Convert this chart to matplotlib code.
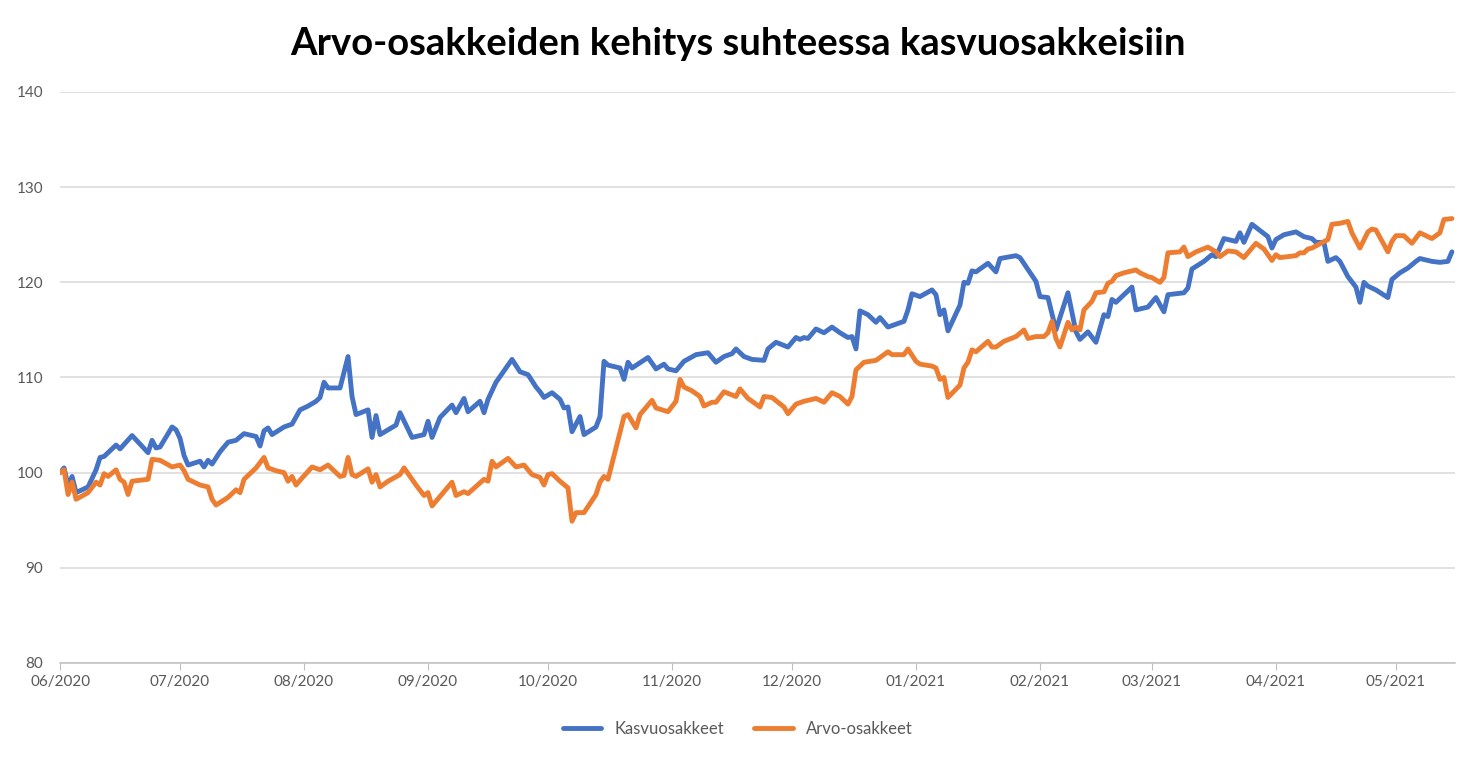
import numpy as np
import pandas as pd
import matplotlib
matplotlib.use('Agg')
import matplotlib.pyplot as plt
import matplotlib.dates as mdates

plt.rcParams['font.family'] = ['Lato', 'DejaVu Sans']

# Kasvuosakkeet (blue)
kasvu_dates = [
    '2020-06-01', '2020-06-02', '2020-06-03', '2020-06-04', '2020-06-05', '2020-06-08', '2020-06-10',
    '2020-06-11', '2020-06-12', '2020-06-15', '2020-06-16', '2020-06-19', '2020-06-23', '2020-06-24',
    '2020-06-25', '2020-06-26', '2020-06-29', '2020-06-30', '2020-07-01', '2020-07-02', '2020-07-03',
    '2020-07-06', '2020-07-07', '2020-07-08', '2020-07-09', '2020-07-11', '2020-07-13', '2020-07-15',
    '2020-07-17', '2020-07-20', '2020-07-21', '2020-07-22', '2020-07-23', '2020-07-24', '2020-07-27',
    '2020-07-29', '2020-07-31', '2020-08-02', '2020-08-04', '2020-08-05', '2020-08-06', '2020-08-07',
    '2020-08-10', '2020-08-12', '2020-08-13', '2020-08-14', '2020-08-17', '2020-08-18', '2020-08-19',
    '2020-08-20', '2020-08-24', '2020-08-25', '2020-08-28', '2020-08-31', '2020-09-01', '2020-09-02',
    '2020-09-04', '2020-09-07', '2020-09-08', '2020-09-10', '2020-09-11', '2020-09-14', '2020-09-15',
    '2020-09-16', '2020-09-18', '2020-09-22', '2020-09-24', '2020-09-26', '2020-09-28', '2020-09-29',
    '2020-09-30', '2020-10-02', '2020-10-04', '2020-10-05', '2020-10-06', '2020-10-07', '2020-10-09',
    '2020-10-10', '2020-10-13', '2020-10-14', '2020-10-15', '2020-10-16', '2020-10-19', '2020-10-20',
    '2020-10-21', '2020-10-22', '2020-10-26', '2020-10-28', '2020-10-30', '2020-10-31', '2020-11-02',
    '2020-11-04', '2020-11-07', '2020-11-10', '2020-11-12', '2020-11-14', '2020-11-16', '2020-11-17',
    '2020-11-19', '2020-11-21', '2020-11-24', '2020-11-25', '2020-11-27', '2020-11-30', '2020-12-02',
    '2020-12-03', '2020-12-04', '2020-12-05', '2020-12-07', '2020-12-09', '2020-12-11', '2020-12-13',
    '2020-12-15', '2020-12-16', '2020-12-17', '2020-12-18', '2020-12-20', '2020-12-22', '2020-12-23',
    '2020-12-25', '2020-12-29', '2020-12-30', '2020-12-31', '2021-01-02', '2021-01-05', '2021-01-06',
    '2021-01-07', '2021-01-08', '2021-01-09', '2021-01-12', '2021-01-13', '2021-01-14', '2021-01-15',
    '2021-01-16', '2021-01-19', '2021-01-21', '2021-01-22', '2021-01-26', '2021-01-27', '2021-01-31',
    '2021-02-01', '2021-02-03', '2021-02-05', '2021-02-08', '2021-02-10', '2021-02-11', '2021-02-13',
    '2021-02-15', '2021-02-17', '2021-02-18', '2021-02-19', '2021-02-20', '2021-02-24', '2021-02-25',
    '2021-02-28', '2021-03-02', '2021-03-04', '2021-03-05', '2021-03-09', '2021-03-10', '2021-03-11',
    '2021-03-14', '2021-03-16', '2021-03-17', '2021-03-19', '2021-03-22', '2021-03-23', '2021-03-24',
    '2021-03-26', '2021-03-30', '2021-03-31', '2021-04-01', '2021-04-03', '2021-04-06', '2021-04-08',
    '2021-04-10', '2021-04-11', '2021-04-13', '2021-04-14', '2021-04-16', '2021-04-17', '2021-04-19',
    '2021-04-21', '2021-04-22', '2021-04-23', '2021-04-24', '2021-04-26', '2021-04-29', '2021-04-30',
    '2021-05-02', '2021-05-04', '2021-05-06', '2021-05-07', '2021-05-10', '2021-05-12', '2021-05-14',
    '2021-05-15']
kasvu_values = [
    100.0, 100.5, 98.6, 99.6, 97.9, 98.5, 100.3,
    101.6, 101.7, 102.9, 102.5, 103.9, 102.1, 103.4,
    102.6, 102.7, 104.8, 104.5, 103.6, 101.8, 100.8,
    101.2, 100.6, 101.3, 100.9, 102.2, 103.2, 103.4,
    104.1, 103.8, 102.8, 104.4, 104.7, 104.0, 104.8,
    105.1, 106.6, 107.0, 107.5, 107.9, 109.5, 108.9,
    108.9, 112.2, 108.0, 106.1, 106.6, 103.7, 106.0,
    104.0, 105.0, 106.3, 103.7, 104.0, 105.4, 103.7,
    105.8, 107.1, 106.3, 107.8, 106.4, 107.5, 106.3,
    107.7, 109.5, 111.9, 110.6, 110.3, 109.0, 108.5,
    107.9, 108.4, 107.7, 106.8, 106.9, 104.3, 105.9,
    104.0, 104.8, 105.9, 111.7, 111.3, 111.0, 109.8,
    111.6, 111.0, 112.1, 110.9, 111.4, 110.9, 110.7,
    111.7, 112.4, 112.6, 111.6, 112.2, 112.5, 113.0,
    112.2, 111.9, 111.8, 113.0, 113.7, 113.2, 114.2,
    114.0, 114.2, 114.1, 115.1, 114.7, 115.3, 114.7,
    114.2, 114.3, 113.0, 117.0, 116.6, 115.8, 116.3,
    115.3, 115.9, 117.1, 118.8, 118.5, 119.2, 118.7,
    116.6, 117.1, 114.9, 117.6, 120.0, 119.9, 121.2,
    121.1, 122.0, 121.1, 122.5, 122.8, 122.6, 120.1,
    118.5, 118.4, 115.0, 118.9, 114.8, 114.0, 114.8,
    113.7, 116.6, 116.4, 118.2, 117.9, 119.5, 117.1,
    117.4, 118.4, 116.9, 118.7, 118.9, 119.4, 121.4,
    122.2, 122.9, 122.7, 124.6, 124.3, 125.2, 124.2,
    126.1, 124.8, 123.6, 124.5, 125.0, 125.3, 124.8,
    124.6, 124.2, 124.2, 122.2, 122.6, 122.2, 120.6,
    119.5, 117.9, 120.0, 119.6, 119.2, 118.4, 120.3,
    121.0, 121.5, 122.2, 122.5, 122.2, 122.1, 122.2,
    123.2]

# Arvo-osakkeet (orange)
arvo_dates = [
    '2020-06-01', '2020-06-02', '2020-06-03', '2020-06-04', '2020-06-05', '2020-06-08', '2020-06-10',
    '2020-06-11', '2020-06-12', '2020-06-13', '2020-06-15', '2020-06-16', '2020-06-17', '2020-06-18',
    '2020-06-19', '2020-06-23', '2020-06-24', '2020-06-26', '2020-06-29', '2020-07-01', '2020-07-02',
    '2020-07-03', '2020-07-06', '2020-07-08', '2020-07-09', '2020-07-10', '2020-07-13', '2020-07-15',
    '2020-07-16', '2020-07-17', '2020-07-20', '2020-07-22', '2020-07-23', '2020-07-25', '2020-07-27',
    '2020-07-28', '2020-07-29', '2020-07-30', '2020-07-31', '2020-08-03', '2020-08-05', '2020-08-07',
    '2020-08-10', '2020-08-11', '2020-08-12', '2020-08-13', '2020-08-14', '2020-08-17', '2020-08-18',
    '2020-08-19', '2020-08-20', '2020-08-22', '2020-08-25', '2020-08-26', '2020-08-29', '2020-08-31',
    '2020-09-01', '2020-09-02', '2020-09-04', '2020-09-07', '2020-09-08', '2020-09-10', '2020-09-11',
    '2020-09-15', '2020-09-16', '2020-09-17', '2020-09-18', '2020-09-21', '2020-09-23', '2020-09-25',
    '2020-09-27', '2020-09-29', '2020-09-30', '2020-10-01', '2020-10-02', '2020-10-04', '2020-10-06',
    '2020-10-07', '2020-10-08', '2020-10-10', '2020-10-13', '2020-10-14', '2020-10-15', '2020-10-16',
    '2020-10-20', '2020-10-21', '2020-10-23', '2020-10-24', '2020-10-27', '2020-10-28', '2020-10-31',
    '2020-11-02', '2020-11-03', '2020-11-04', '2020-11-06', '2020-11-08', '2020-11-09', '2020-11-11',
    '2020-11-12', '2020-11-14', '2020-11-17', '2020-11-18', '2020-11-20', '2020-11-23', '2020-11-24',
    '2020-11-26', '2020-11-29', '2020-11-30', '2020-12-02', '2020-12-04', '2020-12-05', '2020-12-07',
    '2020-12-09', '2020-12-11', '2020-12-13', '2020-12-15', '2020-12-16', '2020-12-17', '2020-12-19',
    '2020-12-22', '2020-12-23', '2020-12-25', '2020-12-26', '2020-12-29', '2020-12-30', '2021-01-01',
    '2021-01-02', '2021-01-05', '2021-01-06', '2021-01-07', '2021-01-08', '2021-01-09', '2021-01-12',
    '2021-01-13', '2021-01-14', '2021-01-15', '2021-01-16', '2021-01-19', '2021-01-20', '2021-01-21',
    '2021-01-23', '2021-01-26', '2021-01-28', '2021-01-29', '2021-01-31', '2021-02-02', '2021-02-03',
    '2021-02-04', '2021-02-05', '2021-02-06', '2021-02-08', '2021-02-09', '2021-02-10', '2021-02-11',
    '2021-02-12', '2021-02-14', '2021-02-15', '2021-02-17', '2021-02-18', '2021-02-19', '2021-02-20',
    '2021-02-22', '2021-02-24', '2021-02-25', '2021-02-26', '2021-02-27', '2021-02-28', '2021-03-01',
    '2021-03-03', '2021-03-04', '2021-03-05', '2021-03-08', '2021-03-09', '2021-03-10', '2021-03-12',
    '2021-03-15', '2021-03-17', '2021-03-18', '2021-03-20', '2021-03-22', '2021-03-24', '2021-03-27',
    '2021-03-29', '2021-03-31', '2021-04-01', '2021-04-02', '2021-04-06', '2021-04-07', '2021-04-08',
    '2021-04-09', '2021-04-10', '2021-04-14', '2021-04-15', '2021-04-17', '2021-04-19', '2021-04-20',
    '2021-04-22', '2021-04-24', '2021-04-25', '2021-04-26', '2021-04-29', '2021-04-30', '2021-05-01',
    '2021-05-03', '2021-05-05', '2021-05-07', '2021-05-10', '2021-05-12', '2021-05-13', '2021-05-15']
arvo_values = [
    100.0, 100.3, 97.7, 99.0, 97.2, 97.9, 99.0,
    98.7, 99.9, 99.6, 100.3, 99.3, 99.0, 97.7,
    99.1, 99.3, 101.4, 101.3, 100.6, 100.8, 100.2,
    99.3, 98.7, 98.5, 97.2, 96.6, 97.4, 98.2,
    97.9, 99.3, 100.5, 101.6, 100.5, 100.2, 100.0,
    99.1, 99.6, 98.7, 99.2, 100.6, 100.3, 100.8,
    99.6, 99.7, 101.6, 99.8, 99.6, 100.4, 99.0,
    99.8, 98.5, 99.1, 99.8, 100.5, 98.7, 97.6,
    97.9, 96.5, 97.5, 99.0, 97.6, 98.0, 97.8,
    99.3, 99.1, 101.2, 100.6, 101.5, 100.6, 100.8,
    99.8, 99.5, 98.7, 99.8, 99.9, 99.1, 98.4,
    94.9, 95.8, 95.8, 97.7, 99.0, 99.6, 99.3,
    105.9, 106.1, 104.7, 106.1, 107.6, 106.8, 106.4,
    107.5, 109.8, 109.0, 108.6, 108.0, 107.0, 107.4,
    107.4, 108.5, 108.0, 108.8, 107.8, 106.9, 108.0,
    107.9, 106.9, 106.2, 107.2, 107.5, 107.6, 107.8,
    107.4, 108.4, 108.0, 107.2, 108.0, 110.8, 111.6,
    111.8, 112.1, 112.7, 112.4, 112.4, 113.0, 111.7,
    111.4, 111.2, 111.0, 109.8, 110.0, 107.9, 109.2,
    111.0, 111.6, 112.9, 112.7, 113.8, 113.2, 113.2,
    113.8, 114.3, 115.0, 114.1, 114.3, 114.3, 114.7,
    115.9, 114.1, 113.2, 115.8, 115.0, 115.3, 115.0,
    117.1, 118.0, 118.9, 119.0, 119.9, 120.1, 120.7,
    121.0, 121.2, 121.3, 121.0, 120.8, 120.6, 120.5,
    120.0, 120.5, 123.1, 123.2, 123.7, 122.7, 123.2,
    123.7, 123.2, 122.7, 123.3, 123.2, 122.6, 124.1,
    123.5, 122.3, 122.9, 122.6, 122.8, 123.1, 123.1,
    123.5, 123.6, 124.5, 126.1, 126.2, 126.4, 125.2,
    123.6, 125.3, 125.6, 125.5, 123.2, 124.3, 124.9,
    124.9, 124.1, 125.2, 124.6, 125.2, 126.6, 126.7]

month_ticks = pd.date_range('2020-06-01', '2021-05-01', freq='MS')

fig = plt.figure(figsize=(14.76, 7.59), dpi=100)
ax = fig.add_axes([0.0407, 0.1265, 0.945, 0.7523])

ax.plot(pd.to_datetime(kasvu_dates), kasvu_values, color='#4472C4', lw=3.5,
        solid_joinstyle='round', solid_capstyle='round', label='Kasvuosakkeet')
ax.plot(pd.to_datetime(arvo_dates), arvo_values, color='#ED7D31', lw=3.5,
        solid_joinstyle='round', solid_capstyle='round', label='Arvo-osakkeet')

ax.set_ylim(80, 140)
ax.set_yticks(np.arange(80, 141, 10))
ax.set_xlim(pd.Timestamp('2020-06-01'), pd.Timestamp('2021-05-15 18:00'))
ax.set_xticks(month_ticks)
ax.xaxis.set_major_formatter(mdates.DateFormatter('%m/%Y'))

ax.grid(axis='y', color='#D9D9D9', lw=1.1)
ax.set_axisbelow(True)
for s in ['top', 'right', 'left']:
    ax.spines[s].set_visible(False)
ax.spines['bottom'].set_color('#BFBFBF')
ax.spines['bottom'].set_linewidth(1.1)
ax.tick_params(axis='y', length=0, labelsize=11, labelcolor='#595959', pad=12)
ax.tick_params(axis='x', length=5, color='#BFBFBF', labelsize=11, labelcolor='#595959', pad=4)

fig.suptitle('Arvo-osakkeiden kehitys suhteessa kasvuosakkeisiin', fontsize=27.5,
             fontweight='bold', y=0.965)

fig.legend(loc='center', bbox_to_anchor=(0.5, 0.04), ncol=2, frameon=False,
           fontsize=12, labelcolor='#595959', handlelength=2.3, columnspacing=1.8)

fig.savefig('out.png', dpi=100)
plt.close()
